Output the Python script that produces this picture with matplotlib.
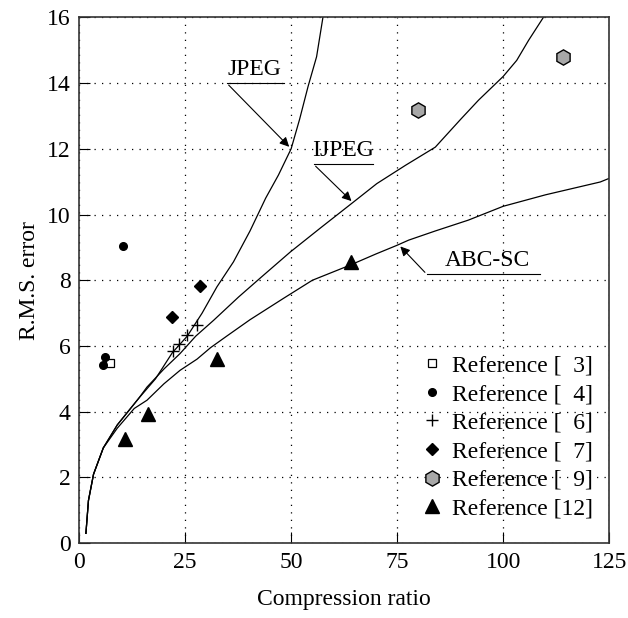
import matplotlib.pyplot as plt

plt.rcParams['font.family'] = ['Liberation Serif', 'DejaVu Serif']

# curves
jpeg_x = [1.6, 2.2, 3.4, 5.7, 9, 14, 18, 22, 25.5, 29, 32.5, 36.4, 40.3, 44, 47, 50, 52, 54, 56, 57.5]
jpeg_y = [0.3, 1.3, 2.1, 2.9, 3.6, 4.4, 5.0, 5.8, 6.3, 7.0, 7.8, 8.56, 9.5, 10.5, 11.2, 12.0, 12.9, 13.9, 14.8, 16.0]

ijpeg_x = [1.6, 2.2, 3.4, 5.7, 9, 14, 16, 20, 23.8, 27.5, 31.7, 37.6, 43, 49.8, 57, 64.7, 70.2, 77, 84, 90, 94.2, 100, 103.2, 106, 109.5]
ijpeg_y = [0.3, 1.3, 2.1, 2.9, 3.6, 4.4, 4.75, 5.3, 5.77, 6.3, 6.78, 7.49, 8.1, 8.86, 9.6, 10.38, 10.94, 11.5, 12.05, 12.9, 13.48, 14.2, 14.69, 15.3, 16.0]

abc_x = [1.6, 2.2, 3.4, 5.7, 9, 13, 16, 20, 23.8, 27.8, 31, 34.8, 40.3, 48.2, 55, 63.9, 70, 74.9, 77.7, 84, 91.8, 100, 110, 122.9, 125]
abc_y = [0.3, 1.3, 2.1, 2.9, 3.5, 4.1, 4.35, 4.85, 5.26, 5.6, 5.95, 6.3, 6.8, 7.45, 8.0, 8.46, 8.8, 9.06, 9.22, 9.5, 9.83, 10.25, 10.6, 10.99, 11.1]

# published results
ref3_x = [7.3]
ref3_y = [5.47]
ref4_x = [10.3, 6.1, 5.7]
ref4_y = [9.05, 5.67, 5.41]
ref6_x = [22.2, 23.6, 25.5, 27.8]
ref6_y = [5.84, 6.05, 6.33, 6.65]
ref7_x = [21.9, 28.6]
ref7_y = [6.87, 7.82]
ref9_x = [79.8, 114.2]
ref9_y = [13.17, 14.79]
ref12_x = [10.8, 16.2, 32.5, 64.0]
ref12_y = [3.17, 3.92, 5.6, 8.55]

fig = plt.figure(figsize=(6.28, 6.18), dpi=100)
ax = fig.add_axes([0.126, 0.121, 0.844, 0.851])

ax.plot(jpeg_x, jpeg_y, color='black', lw=0.9)
ax.plot(ijpeg_x, ijpeg_y, color='black', lw=0.9)
ax.plot(abc_x, abc_y, color='black', lw=0.9)

ax.plot(ref3_x, ref3_y, 's', ms=6, mfc='white', mec='black', mew=0.9, ls='none', label='Reference [  3]')
ax.plot(ref4_x, ref4_y, 'o', ms=5.5, color='black', ls='none', label='Reference [  4]')
ax.plot(ref6_x, ref6_y, '+', ms=9, color='black', mew=1, ls='none', label='Reference [  6]')
ax.plot(ref7_x, ref7_y, 'D', ms=6, color='black', ls='none', label='Reference [  7]')
ax.plot(ref9_x, ref9_y, 'h', ms=11, mfc='#a8a8a8', mec='black', mew=1, ls='none', label='Reference [  9]')
ax.plot(ref12_x, ref12_y, '^', ms=10, color='black', ls='none', label='Reference [12]')

arrow = dict(arrowstyle='-|>', color='black', lw=0.8, mutation_scale=14)
ax.annotate('', xy=(50, 12.0), xytext=(34.8, 14.0), arrowprops=arrow)
ax.plot([34.8, 48.2], [14.0, 14.0], color='black', lw=0.8)
ax.text(41.3, 14.1, 'JPEG', fontsize=17, ha='center', va='bottom')

ax.annotate('', xy=(64.7, 10.35), xytext=(55.3, 11.53), arrowprops=arrow)
ax.plot([55.3, 69.4], [11.53, 11.53], color='black', lw=0.8)
ax.text(62.3, 11.63, 'IJPEG', fontsize=17, ha='center', va='bottom')

ax.annotate('', xy=(75.3, 9.09), xytext=(82, 8.18), arrowprops=arrow)
ax.plot([82, 108.7], [8.18, 8.18], color='black', lw=0.8)
ax.text(96.2, 8.28, 'ABC-SC', fontsize=17, ha='center', va='bottom')

ax.set_xlim(0, 125)
ax.set_ylim(0, 16)
ax.set_xticks([0, 25, 50, 75, 100, 125])
ax.set_yticks(range(0, 17, 2))
ax.grid(True, color='black', ls=(0, (1, 5)), lw=0.9)
ax.tick_params(direction='in', length=8, labelsize=17, pad=6)
for s in ax.spines.values():
    s.set_color('#333333')
    s.set_linewidth(1.2)

ax.set_xlabel('Compression ratio', fontsize=17, labelpad=12)
ax.set_ylabel('R.M.S. error', fontsize=17, labelpad=5)

ax.legend(loc='lower right', frameon=False, fontsize=17, handletextpad=0.3,
          labelspacing=0.3, borderpad=0, borderaxespad=0, handlelength=1.1,
          bbox_to_anchor=(0.970, 0.045))

fig.savefig('out.png', dpi=100)
